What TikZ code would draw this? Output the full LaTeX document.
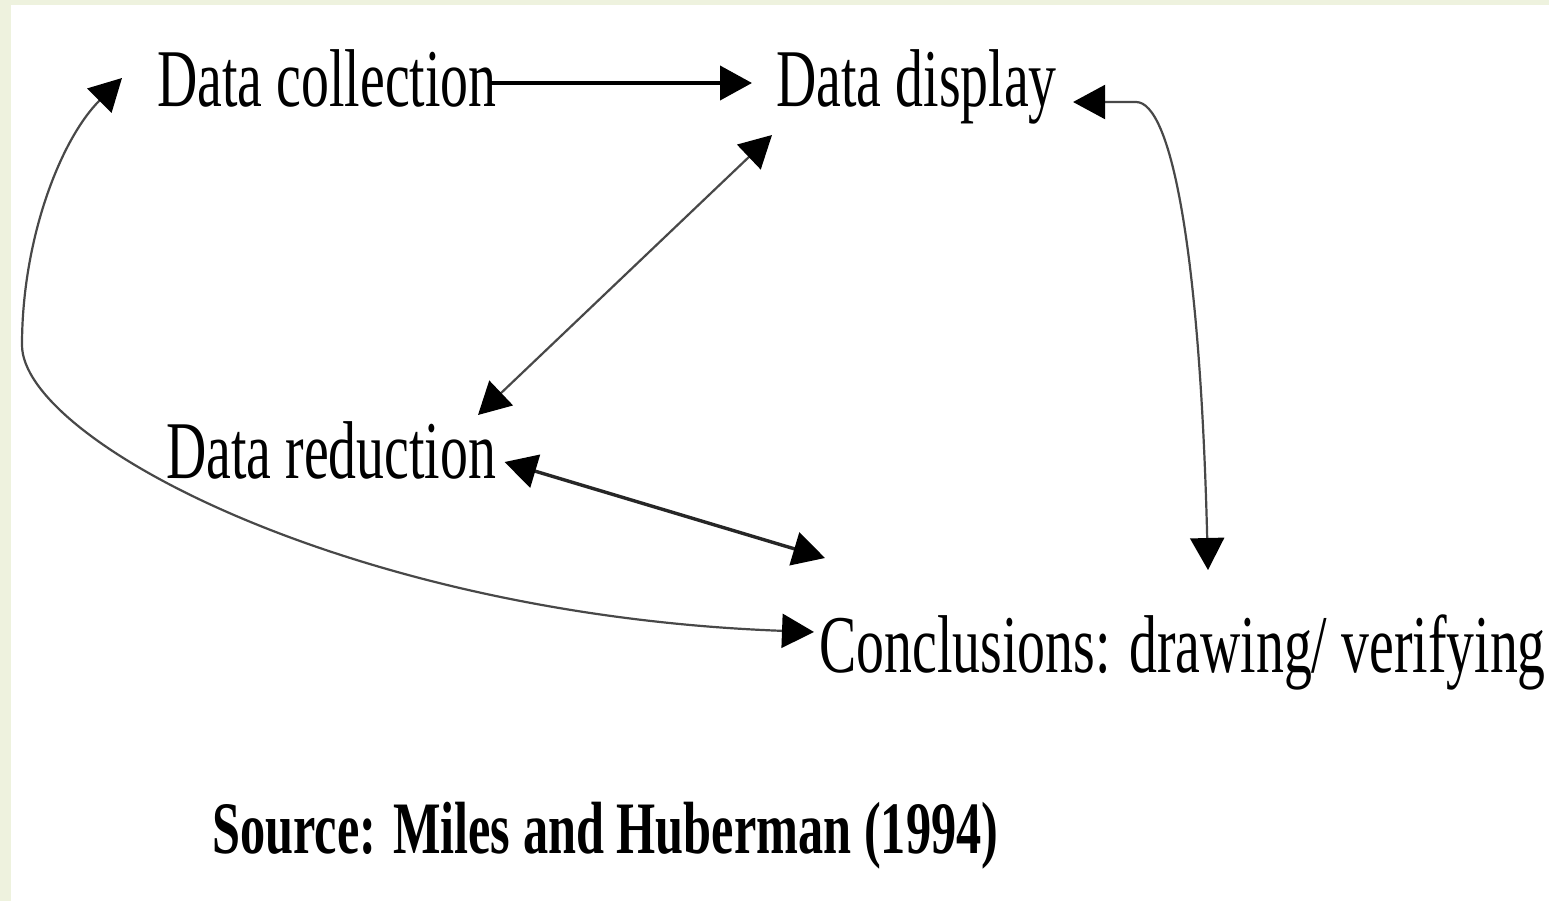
\documentclass[tikz,border=0pt]{standalone}
\usepackage{fontspec}
\setmainfont{Liberation Serif}[FakeStretch=0.68]
\usetikzlibrary{arrows.meta}
\definecolor{bgedge}{HTML}{EEF2DE}
\definecolor{linegray}{HTML}{484848}
\begin{document}
\begin{tikzpicture}[x=0.5pt,y=-0.5pt,
  lbl/.style={inner sep=0pt, anchor=base west, font=\fontsize{41}{41}\selectfont},
  srcl/.style={inner sep=0pt, anchor=base west, font=\fontsize{37}{37}\selectfont\bfseries},
  hd/.tip={Triangle[length=16pt,width=17pt,color=black]},
  both/.style={draw=linegray, line width=1.1pt, arrows={hd-hd}},
  fwd/.style={draw=black, line width=2pt, arrows={-hd}}]
  \fill[bgedge] (0,0) rectangle (1549,901);
  \fill[white] (11,5) rectangle (1549,901);
  \useasboundingbox (0,0) rectangle (1549,901);

  \node[lbl] (dc) at (157,106) {Data collection};
  \node[lbl] (dd) at (776,106) {Data display};
  \node[lbl] (dr) at (166,478) {Data reduction};
  \node[lbl] (cc) at (819,672) {Conclusions: drawing/ verifying};
  \node[srcl] (src) at (212,853) {Source: Miles and Huberman (1994)};

  \draw[fwd] ([shift={(-8,-23)}]dc.base east) -- ([shift={(-24,-23)}]dd.base west);
  \draw[both] ([shift={(312,-63)}]dr.base west) -- ([shift={(-4,29)}]dd.base west);
  \draw[both, line width=1.7pt, draw=black!85] ([shift={(8,-16)}]dr.base east) -- ([shift={(6,-114)}]cc.base west);
  \draw[both] ([shift={(16,-4)}]dd.base east) -- ++(63,0)
     .. controls ++(35,0) and (1200,250) .. ([shift={(389,-102)}]cc.base west);
  \draw[both] ([shift={(-35,-28)}]dc.base west) .. controls (60,140) and (22,240) .. (22,345)
     .. controls (22,440) and (350,615) .. ([shift={(-5,-40)}]cc.base west);
\end{tikzpicture}
\end{document}
